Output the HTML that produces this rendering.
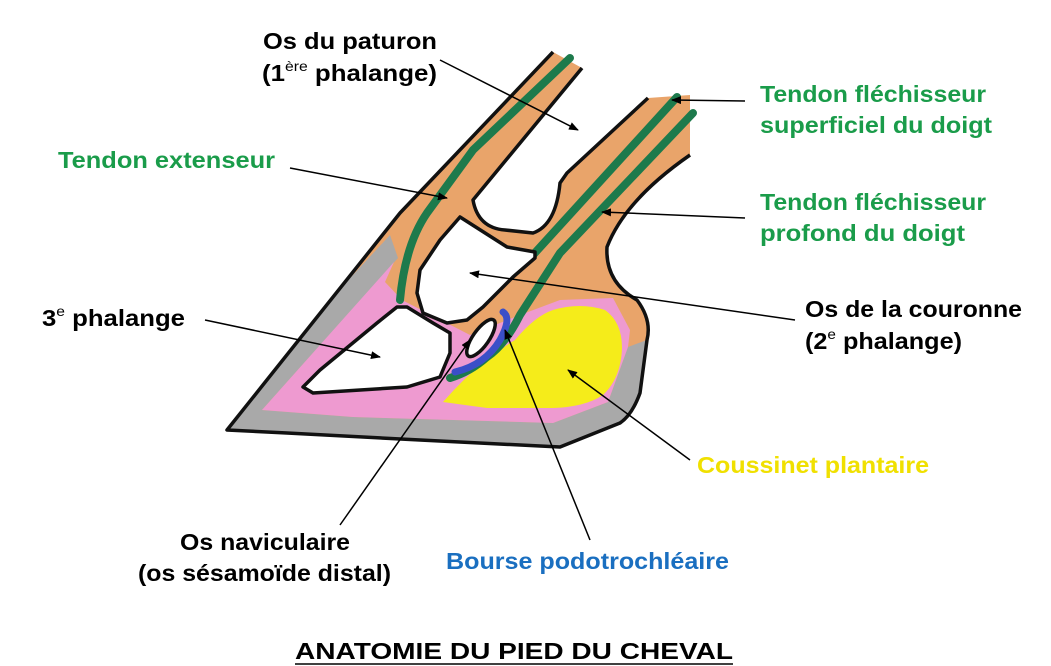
<!DOCTYPE html>
<html><head><meta charset="utf-8"><style>
html,body{margin:0;padding:0;background:#fff;}
svg{display:block}
text{font-family:"Liberation Sans",sans-serif;font-weight:bold;font-size:23px;}
</style></head><body>
<svg width="1051" height="666" viewBox="0 0 1051 666" xmlns="http://www.w3.org/2000/svg">
<defs>
<marker id="a" markerWidth="10" markerHeight="8" refX="9" refY="4" orient="auto" markerUnits="userSpaceOnUse"><path d="M0,0 L10,4 L0,8 z" fill="#000"/></marker>
<clipPath id="sil"><path d="M227,430 L400,213 L553,52 L582,68 L473,200 Q478,228 505,230 L533,233 Q556,225 560,183 L567,173 L648,98 L690,95 L690,155 Q625,200 607,247 Q605,282 637,300 Q652,320 647,340 L640,393 Q632,415 620,423 L560,447 L420,440 L287,433 Z"/></clipPath>
</defs>
<path d="M227,430 L400,213 L553,52 L582,68 L473,200 Q478,228 505,230 L533,233 Q556,225 560,183 L567,173 L648,98 L690,95 L690,155 Q625,200 607,247 Q605,282 637,300 Q652,320 647,340 L640,393 Q632,415 620,423 L560,447 L420,440 L287,433 Z" fill="#e9a46a"/>
<g clip-path="url(#sil)">
<path d="M200,440 L390,235 L398,258 L262,410 L353,417 L553,423 L608,402 L628,347 L660,335 L660,470 L200,470 Z" fill="#a9a9a9"/>
<path d="M394,262 L385,282 L402,300 L470,335 L520,315 L560,300 L613,298 L630,330 L628,347 L608,402 L553,423 L353,417 L262,410 Z" fill="#ee9ad0"/>
<path d="M443,402 Q478,362 515,340 Q535,316 553,310 Q580,302 605,310 Q622,322 622,348 Q621,378 603,395 Q585,407 553,408 L487,408 Z" fill="#f5ec1a"/>
</g>
<g fill="none" stroke="#1d7a4c" stroke-width="8" stroke-linecap="round">
<path d="M570,58 L473,150 L427,213 Q405,245 400,300"/>
<path d="M677,97 L533,255"/>
<path d="M693,113 L560,253 L520,315 Q505,345 487,357 Q470,372 450,378"/>
</g>
<path d="M503,312 Q512,318 500,340 Q485,365 455,372" fill="none" stroke="#3a4fc8" stroke-width="7" stroke-linecap="round"/>
<path d="M553,52 L400,213 L227,430 L287,433 L420,440 L560,447 L620,423 Q632,415 640,393 L647,340 Q652,320 637,300 Q605,282 607,247 Q625,200 690,155" fill="none" stroke="#111" stroke-width="3.5" stroke-linejoin="round"/>
<path d="M582,68 L473,200 Q478,228 505,230 L533,233 Q556,225 560,183 L567,173 L648,98" fill="none" stroke="#111" stroke-width="3.5" stroke-linejoin="round"/>
<path d="M460,217 L507,247 L535,252 L535,258 L513,277 L483,307 L467,320 L447,323 L423,313 L417,293 L420,270 L440,240 Z" fill="#fff" stroke="#111" stroke-width="3.5" stroke-linejoin="round"/>
<path d="M397,307 L407,307 L433,323 L450,333 L450,353 L440,377 L407,387 L313,393 L303,387 L320,370 L377,323 Z" fill="#fff" stroke="#111" stroke-width="3.5" stroke-linejoin="round"/>
<ellipse cx="481" cy="338" rx="22" ry="8" transform="rotate(-55 481 338)" fill="#fff" stroke="#111" stroke-width="3.5"/>
<g stroke="#000" stroke-width="1.5" marker-end="url(#a)">
<line x1="440" y1="60" x2="578" y2="130"/>
<line x1="290" y1="168" x2="447" y2="198"/>
<line x1="745" y1="101" x2="672" y2="100"/>
<line x1="745" y1="218" x2="602" y2="212"/>
<line x1="205" y1="320" x2="380" y2="357"/>
<line x1="795" y1="320" x2="470" y2="273"/>
<line x1="690" y1="460" x2="568" y2="370"/>
<line x1="590" y1="540" x2="505" y2="330"/>
<line x1="340" y1="525" x2="470" y2="340"/>
</g>
<text x="263" y="49" textLength="174" lengthAdjust="spacingAndGlyphs">Os du paturon</text>
<text x="262" y="81" textLength="175" lengthAdjust="spacingAndGlyphs">(1<tspan dy="-10" font-size="14" font-weight="normal">ère</tspan><tspan dy="10"> phalange)</tspan></text>
<text x="58" y="168" fill="#1a9c4a" textLength="217" lengthAdjust="spacingAndGlyphs">Tendon extenseur</text>
<text x="760" y="102" fill="#1a9c4a" textLength="226" lengthAdjust="spacingAndGlyphs">Tendon fléchisseur</text>
<text x="760" y="133" fill="#1a9c4a" textLength="232" lengthAdjust="spacingAndGlyphs">superficiel du doigt</text>
<text x="760" y="210" fill="#1a9c4a" textLength="226" lengthAdjust="spacingAndGlyphs">Tendon fléchisseur</text>
<text x="760" y="241" fill="#1a9c4a" textLength="205" lengthAdjust="spacingAndGlyphs">profond du doigt</text>
<text x="42" y="326" textLength="143" lengthAdjust="spacingAndGlyphs">3<tspan dy="-10" font-size="14" font-weight="normal">e</tspan><tspan dy="10"> phalange</tspan></text>
<text x="805" y="317" textLength="217" lengthAdjust="spacingAndGlyphs">Os de la couronne</text>
<text x="805" y="349" textLength="157" lengthAdjust="spacingAndGlyphs">(2<tspan dy="-10" font-size="14" font-weight="normal">e</tspan><tspan dy="10"> phalange)</tspan></text>
<text x="697" y="473" fill="#f0e000" textLength="232" lengthAdjust="spacingAndGlyphs">Coussinet plantaire</text>
<text x="180" y="550" textLength="170" lengthAdjust="spacingAndGlyphs">Os naviculaire</text>
<text x="138" y="581" textLength="253" lengthAdjust="spacingAndGlyphs">(os sésamoïde distal)</text>
<text x="446" y="569" fill="#1a6fc0" textLength="283" lengthAdjust="spacingAndGlyphs">Bourse podotrochléaire</text>
<text x="295" y="659" font-weight="normal" font-size="26" textLength="438" lengthAdjust="spacingAndGlyphs">ANATOMIE DU PIED DU CHEVAL</text>
<line x1="295" y1="664" x2="733" y2="664" stroke="#000" stroke-width="1.5"/>
</svg>
</body></html>
